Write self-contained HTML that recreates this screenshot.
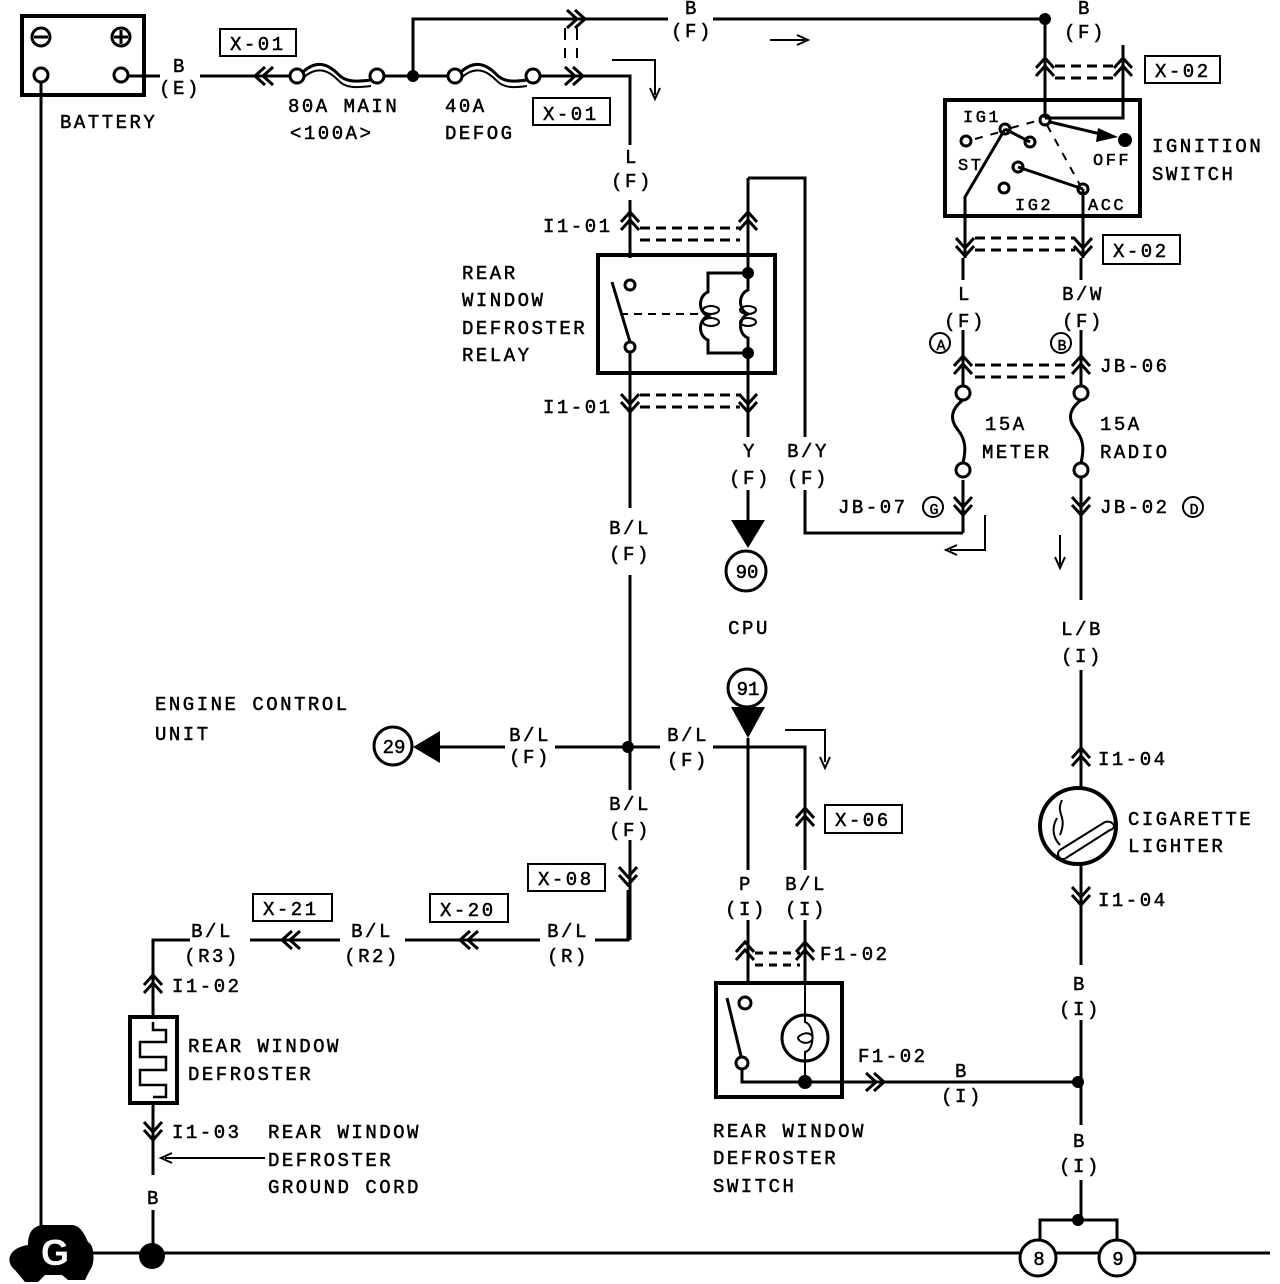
<!DOCTYPE html>
<html><head><meta charset="utf-8"><style>
html,body{margin:0;padding:0;background:#fff;}
svg{display:block;}
text{font-family:"Liberation Mono",monospace;font-size:19px;letter-spacing:2.5px;fill:#000;stroke:#000;stroke-width:0.5px;}
.c{text-anchor:middle;}
</style></head><body>
<svg width="1280" height="1284" viewBox="0 0 1280 1284" xmlns="http://www.w3.org/2000/svg">
<defs>
<g id="cu" fill="none" stroke="#000" stroke-width="3"><path d="M-9,10 L0,0 L9,10 M-9,18 L0,8 L9,18"/></g>
</defs>
<g fill="none" stroke="#000" stroke-width="3">
<rect x="22" y="16" width="122" height="79" stroke-width="4"/>
<circle cx="41" cy="37" r="9"/><path d="M34,37 H48"/>
<circle cx="121" cy="37" r="9"/><path d="M114,37 H128 M121,30 V44"/>
<circle cx="41" cy="75" r="7"/><circle cx="121" cy="75" r="7"/>
<path d="M41,82 V1253 M128,76 H160 M200,76 H290"/>
<path d="M40,1253 H1270"/>
<circle cx="297" cy="76" r="7"/><circle cx="377" cy="76" r="7"/>
<path d="M303,72 C318,58 330,66 338,74 C345,82 355,82 371,80" />
<path d="M303,78 C318,64 330,72 338,80 C345,88 355,88 371,86" stroke-width="2"/>
<path d="M384,76 H448"/>
<circle cx="455" cy="76" r="7"/><circle cx="533" cy="76" r="7"/>
<path d="M461,72 C476,58 488,66 496,74 C503,82 513,82 527,80"/>
<path d="M461,78 C476,64 488,72 496,80 C503,88 513,88 527,86" stroke-width="2"/>
<path d="M540,76 H630 V145 M630,200 V258"/>
<path d="M413,76 V19 H668 M713,19 H1045"/>
<path d="M1045,19 V118 M1123,45 V118 H1045"/>
<path d="M612,60 H655 V95 M770,40 H805 M985,515 V550 H950 M1060,535 V565 M785,730 H825 V762 M265,1158 H165" stroke-width="2"/>
<path d="M565,28 V40 M577,28 V40 M565,48 V58 M577,48 V58" stroke-width="2"/>
<rect x="945" y="100" width="195" height="116" stroke-width="4"/>
<circle cx="1045" cy="120" r="5"/><circle cx="1005" cy="129" r="5"/><circle cx="1030" cy="142" r="5"/>
<circle cx="966" cy="141" r="5"/><circle cx="1018" cy="167" r="5"/><circle cx="1083" cy="189" r="5"/><circle cx="1004" cy="188" r="5"/>
<path d="M1050,122 L1105,135"/>
<path d="M1005,129 L1030,142 M1018,167 L1083,189 M1005,129 L965,197 V258 M1083,189 V258"/>
<path d="M975,139 L1000,132 M1011,128 L1040,120 M1047,125 L1080,185" stroke-dasharray="8 8" stroke-width="2"/>
<path d="M1055,66 H1115 M1055,78 H1115 M975,238 H1075 M975,250 H1075 M975,365 H1070 M975,377 H1070" stroke-dasharray="10 6"/>
<path d="M640,228 H740 M640,240 H740 M640,395 H740 M640,407 H740" stroke-dasharray="10 6"/>
<rect x="598" y="255" width="177" height="118" stroke-width="4"/>
<circle cx="630" cy="285" r="5"/><circle cx="630" cy="347" r="5"/>
<path d="M612,282 L630,342"/>
<path d="M630,352 V508 M630,575 V790 M630,840 V940"/>
<path d="M620,314 H700" stroke-dasharray="8 6" stroke-width="2"/>
<path d="M748,178 V273 M748,353 V437 M748,490 V520 M748,178 H805 V437 M805,490 V533 H963 M963,480 V533"/>
<path d="M748,273 H708 V292 C698,296 698,312 708,316 C698,320 698,336 708,340 V353 H748"/>
<path d="M748,273 V290 C738,294 738,310 748,314 C738,318 738,334 748,338 V353"/>
<ellipse cx="711" cy="310" rx="8" ry="4" stroke-width="2"/><ellipse cx="711" cy="322" rx="8" ry="4" stroke-width="2"/>
<ellipse cx="748" cy="310" rx="8" ry="4" stroke-width="2"/><ellipse cx="748" cy="322" rx="8" ry="4" stroke-width="2"/>
<path d="M963,258 V280 M963,330 V385 M1081,258 V280 M1081,330 V385"/>
<circle cx="963" cy="393" r="7"/><circle cx="963" cy="470" r="7"/>
<circle cx="1081" cy="393" r="7"/><circle cx="1081" cy="470" r="7"/>
<path d="M963,400 C950,410 950,420 958,430 C966,440 966,450 963,463"/>
<path d="M1081,400 C1068,410 1068,420 1076,430 C1084,440 1084,450 1081,463"/>
<path d="M1081,477 V600 M1081,670 V788 M1081,864 V965 M1081,1020 V1125 M1081,1180 V1220"/>
<circle cx="1078" cy="826" r="38" stroke-width="4"/>
<path d="M1060,850 L1105,822 M1066,858 L1110,830 M1105,822 A6,4 0 0 1 1110,830 M1060,850 A5,5 0 0 0 1066,858" stroke-width="2"/>
<path d="M1062,800 C1055,815 1068,815 1060,835 M1057,818 C1050,830 1055,840 1060,845" stroke-width="2"/>
<path d="M1040,1240 V1220 H1117 V1240"/>
<circle cx="1038" cy="1258" r="18" fill="#fff"/><circle cx="1117" cy="1258" r="18" fill="#fff"/>
<path d="M748,738 V870 M748,920 V985 M440,747 H505 M555,747 H660 M713,747 H805 V870 M805,920 V985"/>
<circle cx="746" cy="571" r="20"/><circle cx="747" cy="688" r="19"/><circle cx="393" cy="746" r="19"/>
<path d="M628,890 V940 H595 M540,940 H405 M340,940 H250 M190,940 H153 V1017 M153,1102 V1175 M153,1210 V1253"/>
<rect x="130" y="1017" width="47" height="86" stroke-width="4"/>
<path d="M153,1022 V1030 H166 V1042 H140 V1057 H166 V1070 H140 V1085 H166 V1097 H153" stroke-width="2.5"/>
<rect x="716" y="983" width="126" height="114" stroke-width="4"/>
<circle cx="745" cy="1003" r="6"/><circle cx="742" cy="1063" r="6"/>
<path d="M727,998 L741,1056 M742,1069 V1082 H1078"/>
<circle cx="805" cy="1038" r="23"/>
<path d="M805,985 V1022 C815,1025 815,1050 805,1052 V1082 M798,1037 C806,1030 815,1034 812,1040 C808,1045 798,1043 798,1037" stroke-width="2"/>
<path d="M755,953 H800 M755,965 H800" stroke-dasharray="8 6"/>
<rect x="220" y="29" width="76" height="27" stroke-width="2"/>
<rect x="533" y="98" width="77" height="27" stroke-width="2"/>
<rect x="1145" y="56" width="75" height="27" stroke-width="2"/>
<rect x="1103" y="235" width="77" height="29" stroke-width="2"/>
<rect x="825" y="805" width="77" height="28" stroke-width="2"/>
<rect x="528" y="864" width="77" height="27" stroke-width="2"/>
<rect x="430" y="894" width="78" height="28" stroke-width="2"/>
<rect x="253" y="894" width="79" height="27" stroke-width="2"/>
</g>
<g fill="none" stroke="#000" stroke-width="2">
<path d="M650,88 L655,99 L660,88 M797,35 L808,40 L797,45 M957,545 L946,550 L957,555 M1055,557 L1060,568 L1065,557 M820,757 L825,768 L830,757 M172,1153 L161,1158 L172,1163"/>
</g>
<use href="#cu" transform="translate(255,76) rotate(-90)"/>
<use href="#cu" transform="translate(575,76) rotate(90) translate(0,-8)"/>
<use href="#cu" transform="translate(577,19) rotate(90) translate(0,-8)"/>
<use href="#cu" transform="translate(1045,58)"/>
<use href="#cu" transform="translate(1123,58)"/>
<use href="#cu" transform="translate(630,212)"/>
<use href="#cu" transform="translate(748,212)"/>
<use href="#cu" transform="translate(630,412) rotate(180)"/>
<use href="#cu" transform="translate(748,412) rotate(180)"/>
<use href="#cu" transform="translate(965,256) rotate(180)"/>
<use href="#cu" transform="translate(1083,256) rotate(180)"/>
<use href="#cu" transform="translate(963,356)"/>
<use href="#cu" transform="translate(1081,356)"/>
<use href="#cu" transform="translate(963,515) rotate(180)"/>
<use href="#cu" transform="translate(1081,515) rotate(180)"/>
<use href="#cu" transform="translate(1081,748)"/>
<use href="#cu" transform="translate(1081,905) rotate(180)"/>
<use href="#cu" transform="translate(805,808)"/>
<use href="#cu" transform="translate(628,885) rotate(180)"/>
<use href="#cu" transform="translate(460,940) rotate(-90)"/>
<use href="#cu" transform="translate(282,940) rotate(-90)"/>
<use href="#cu" transform="translate(153,975)"/>
<use href="#cu" transform="translate(153,1140) rotate(180)"/>
<use href="#cu" transform="translate(745,942)"/>
<use href="#cu" transform="translate(805,942)"/>
<use href="#cu" transform="translate(884,1082) rotate(90)"/>
<g fill="#000">
<circle cx="413" cy="76" r="6"/><circle cx="1045" cy="19" r="6"/><circle cx="1125" cy="140" r="7"/>
<path d="M1098,128 L1118,137 L1096,142 Z"/>
<circle cx="748" cy="273" r="6"/><circle cx="748" cy="353" r="6"/>
<circle cx="628" cy="747" r="6"/><circle cx="805" cy="1082" r="7"/>
<circle cx="1078" cy="1082" r="6"/><circle cx="1078" cy="1220" r="6"/>
<circle cx="152" cy="1256" r="13"/>
<path d="M731,520 H765 L748,548 Z"/>
<path d="M731,707 H765 L748,738 Z"/>
<path d="M440,731 V763 L413,747 Z"/>
<path d="M28,1245 C28,1230 35,1225 45,1225 H72 C80,1225 85,1235 88,1242 C95,1245 95,1265 90,1270 L85,1280 H68 L62,1275 H45 L38,1282 H25 L15,1270 C5,1262 8,1248 28,1245 Z"/>
</g>
<text x="55" y="1265" class="c" style="fill:#fff;stroke:none;font-size:36px;font-family:'Liberation Sans',sans-serif;font-weight:bold;letter-spacing:0">G</text>
<text x="60" y="128">BATTERY</text>
<text x="180" y="72" class="c">B</text><text x="180" y="94" class="c">(E)</text>
<text x="230" y="50">X-01</text>
<text x="543" y="120">X-01</text>
<text x="288" y="112">80A MAIN</text><text x="290" y="139">&lt;100A&gt;</text>
<text x="445" y="112">40A</text><text x="445" y="139">DEFOG</text>
<text x="692" y="14" class="c">B</text><text x="692" y="37" class="c">(F)</text>
<text x="1085" y="14" class="c">B</text><text x="1085" y="38" class="c">(F)</text>
<text x="1155" y="77">X-02</text>
<text x="632" y="163" class="c">L</text><text x="632" y="187" class="c">(F)</text>
<text x="543" y="232">I1-01</text><text x="543" y="413">I1-01</text>
<text x="462" y="279">REAR</text><text x="462" y="306">WINDOW</text><text x="462" y="334">DEFROSTER</text><text x="462" y="361">RELAY</text>
<text x="963" y="122" style="font-size:17px">IG1</text>
<text x="958" y="170" style="font-size:17px">ST</text>
<text x="1093" y="165" style="font-size:17px">OFF</text>
<text x="1015" y="210" style="font-size:17px">IG2</text>
<text x="1088" y="210" style="font-size:17px">ACC</text>
<text x="1152" y="152">IGNITION</text><text x="1152" y="180">SWITCH</text>
<text x="1113" y="257">X-02</text>
<text x="965" y="300" class="c">L</text><text x="965" y="327" class="c">(F)</text>
<text x="1083" y="300" class="c">B/W</text><text x="1083" y="327" class="c">(F)</text>
<circle cx="940" cy="343" r="10" fill="none" stroke="#000" stroke-width="2"/><text x="941" y="350" class="c" style="font-size:15px;letter-spacing:0">A</text>
<circle cx="1061" cy="343" r="10" fill="none" stroke="#000" stroke-width="2"/><text x="1062" y="350" class="c" style="font-size:15px;letter-spacing:0">B</text>
<text x="1100" y="372">JB-06</text>
<text x="985" y="430">15A</text><text x="982" y="458">METER</text>
<text x="1100" y="430">15A</text><text x="1100" y="458">RADIO</text>
<text x="838" y="513">JB-07</text>
<circle cx="933" cy="507" r="10" fill="none" stroke="#000" stroke-width="2"/><text x="934" y="514" class="c" style="font-size:15px;letter-spacing:0">G</text>
<text x="1100" y="513">JB-02</text>
<circle cx="1193" cy="507" r="10" fill="none" stroke="#000" stroke-width="2"/><text x="1194" y="514" class="c" style="font-size:15px;letter-spacing:0">D</text>
<text x="750" y="457" class="c">Y</text><text x="750" y="484" class="c">(F)</text>
<text x="808" y="457" class="c">B/Y</text><text x="808" y="484" class="c">(F)</text>
<text x="630" y="534" class="c">B/L</text><text x="630" y="560" class="c">(F)</text>
<text x="747" y="578" class="c" style="letter-spacing:0">90</text>
<text x="749" y="634" class="c">CPU</text>
<text x="748" y="695" class="c" style="letter-spacing:0">91</text>
<text x="394" y="753" class="c" style="letter-spacing:0">29</text>
<text x="155" y="710">ENGINE CONTROL</text><text x="155" y="740">UNIT</text>
<text x="530" y="741" class="c">B/L</text><text x="530" y="763" class="c">(F)</text>
<text x="688" y="741" class="c">B/L</text><text x="688" y="766" class="c">(F)</text>
<text x="630" y="810" class="c">B/L</text><text x="630" y="836" class="c">(F)</text>
<text x="835" y="826">X-06</text>
<text x="538" y="885">X-08</text>
<text x="440" y="916">X-20</text>
<text x="263" y="915">X-21</text>
<text x="568" y="937" class="c">B/L</text><text x="568" y="962" class="c">(R)</text>
<text x="372" y="937" class="c">B/L</text><text x="372" y="962" class="c">(R2)</text>
<text x="212" y="937" class="c">B/L</text><text x="212" y="962" class="c">(R3)</text>
<text x="746" y="890" class="c">P</text><text x="746" y="915" class="c">(I)</text>
<text x="806" y="890" class="c">B/L</text><text x="806" y="915" class="c">(I)</text>
<text x="820" y="960">F1-02</text>
<text x="858" y="1062">F1-02</text>
<text x="962" y="1077" class="c">B</text><text x="962" y="1102" class="c">(I)</text>
<text x="1082" y="635" class="c">L/B</text><text x="1082" y="662" class="c">(I)</text>
<text x="1098" y="765">I1-04</text><text x="1098" y="906">I1-04</text>
<text x="1128" y="825">CIGARETTE</text><text x="1128" y="852">LIGHTER</text>
<text x="1080" y="990" class="c">B</text><text x="1080" y="1015" class="c">(I)</text>
<text x="1080" y="1147" class="c">B</text><text x="1080" y="1172" class="c">(I)</text>
<text x="1039" y="1265" class="c" style="letter-spacing:0">8</text>
<text x="1118" y="1265" class="c" style="letter-spacing:0">9</text>
<text x="172" y="992">I1-02</text>
<text x="188" y="1052">REAR WINDOW</text><text x="188" y="1080">DEFROSTER</text>
<text x="172" y="1138">I1-03</text>
<text x="268" y="1138">REAR WINDOW</text><text x="268" y="1166">DEFROSTER</text><text x="268" y="1193">GROUND CORD</text>
<text x="154" y="1204" class="c">B</text>
<text x="713" y="1137">REAR WINDOW</text><text x="713" y="1164">DEFROSTER</text><text x="713" y="1192">SWITCH</text>
</svg>
</body></html>
